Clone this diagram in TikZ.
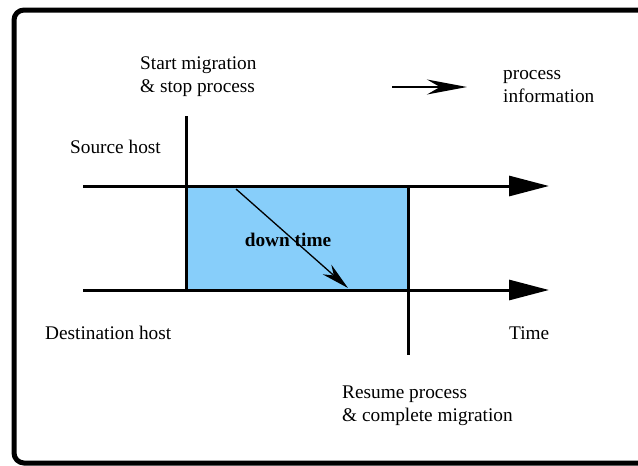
\documentclass[tikz,border=0pt]{standalone}
\usepackage{fontspec}
\setmainfont{Liberation Serif}
\usepackage{xcolor}
\usetikzlibrary{
		calc,
		positioning,
		arrows.meta
	}
\definecolor{downblue}{RGB}{135,206,250}
\tikzset{
		>=Stealth,
		lbl/.style={inner sep=0pt, anchor=base west, align=left, font=\fontsize{19.3}{23}\selectfont},
		axis/.style={line width=3pt, -{Triangle[length=40pt,width=20pt]}},
		tick/.style={line width=3pt}
	}

\begin{document}
\begin{tikzpicture}[x=1pt,y=-1pt]
		\useasboundingbox (0,0) rectangle (638,466);
		% frame
		\draw[line width=5pt, rounded corners=10pt] (14,10) rectangle (680,463);
		% down time box
		\fill[downblue] (186,186) rectangle (408,290);
		\coordinate (src0) at (83,186); \coordinate (src1) at (549,186);
		\coordinate (dst0) at (83,290); \coordinate (dst1) at (549,290);
		\coordinate (stop0) at (186,116); \coordinate (stop1) at (186,290);
		\coordinate (res0) at (408,186); \coordinate (res1) at (408,355);
		\draw[tick] (stop0) -- (stop1);
		\draw[tick] (res0) -- (res1);
		\draw[axis] (src0) -- (src1);
		\draw[axis] (dst0) -- (dst1);
		% process information
		\coordinate (info0) at (236,189); \coordinate (info1) at (348,288);
		\draw[line width=1.3pt, -{Stealth[length=28pt,width=13pt]}] (info0) -- (info1);
		\node[font=\fontsize{19.3}{23}\selectfont\bfseries, inner sep=0pt] (down) at (288,240) {down time};
		% legend
		\coordinate (leg0) at (392,87); \coordinate (leg1) at (467,87);
		\draw[line width=1.5pt, -{Stealth[length=40pt,width=15pt]}] (leg0) -- (leg1);
		\node[lbl] (legtxt) at (503,102) {process\\information};
		% labels
		\node[lbl] (start) at (140,92) {Start migration\\\& stop process};
		\node[lbl] (srchost) at (70,153) {Source host};
		\node[lbl] (dsthost) at (45,339) {Destination host};
		\node[lbl] (time) at (509,339) {Time};
		\node[lbl] (resume) at (342,421) {Resume process\\\& complete migration};
	\end{tikzpicture}
\end{document}
